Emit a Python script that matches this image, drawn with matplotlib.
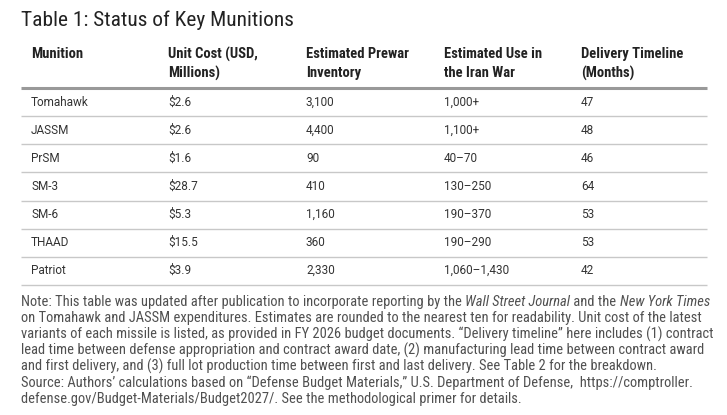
import matplotlib
matplotlib.use("Agg")
import matplotlib.pyplot as plt
from matplotlib import font_manager

title = "Table 1: Status of Key Munitions"
headers = [["Munition", ""],
           ["Unit Cost (USD,", "Millions)"],
           ["Estimated Prewar", "Inventory"],
           ["Estimated Use in", "the Iran War"],
           ["Delivery Timeline", "(Months)"]]
munitions = ["Tomahawk", "JASSM", "PrSM", "SM-3", "SM-6", "THAAD", "Patriot"]
unit_cost = ["$2.6", "$2.6", "$1.6", "$28.7", "$5.3", "$15.5", "$3.9"]
inventory = ["3,100", "4,400", "90", "410", "1,160", "360", "2,330"]
use_in_war = ["1,000+", "1,100+", "40\u201370", "130\u2013250", "190\u2013370", "190\u2013290", "1,060\u20131,430"]
delivery = ["47", "48", "46", "64", "53", "53", "42"]

note_lines = [
    [("Note: This table was updated after publication to incorporate reporting by the ", "normal"),
     ("Wall Street Journal", "italic"), (" and the ", "normal"), ("New York Times", "italic")],
    [("on Tomahawk and JASSM expenditures. Estimates are rounded to the nearest ten for readability. Unit cost of the latest", "normal")],
    [("variants of each missile is listed, as provided in FY 2026 budget documents. \u201cDelivery timeline\u201d here includes (1) contract", "normal")],
    [("lead time between defense appropriation and contract award date, (2) manufacturing lead time between contract award", "normal")],
    [("and first delivery, and (3) full lot production time between first and last delivery. See Table 2 for the breakdown.", "normal")],
]
source_lines = [
    "Source: Authors\u2019 calculations based on \u201cDefense Budget Materials,\u201d U.S. Department of Defense,  https://comptroller.",
    "defense.gov/Budget-Materials/Budget2027/. See the methodological primer for details.",
]

# pick a narrow face if one is installed
fonts = font_manager.fontManager.ttflist
names = {f.name for f in fonts}
narrow, stretch = "DejaVu Sans", "condensed"
for cand in ["Liberation Sans Narrow", "Roboto Condensed", "Open Sans Condensed", "Noto Sans Condensed"]:
    if cand in names:
        narrow, stretch = cand, "normal"
        break
body = "Roboto"

fig = plt.figure(figsize=(7.27, 4.15), dpi=100)
ax = fig.add_axes([0, 0, 1, 1])
ax.set_xlim(0, 727)
ax.set_ylim(415, 0)
ax.axis("off")
r = fig.canvas.get_renderer()


def fit(s, target, **kw):
    t = ax.text(0, 0, s, fontsize=10, **kw)
    w = t.get_window_extent(r).width
    t.remove()
    return 10 * target / w


def put(x, y, s, **kw):
    t = ax.text(x, y, s, va="center", **kw)
    bb = t.get_window_extent(r)
    return ax.transData.inverted().transform((bb.x1, bb.y0))[0]


left, right = 21, 707
col_x = [31, 168, 306, 444, 581]
dark, txt, grey = "#222222", "#333333", "#505050"

tkw = dict(family=narrow, stretch=stretch)
put(left, 20, title, fontsize=fit(title, 271, **tkw), color=dark, **tkw)

hkw = dict(family=narrow, stretch=stretch, weight="bold")
hsize = fit("Delivery Timeline", 102, **hkw)
for x, (l1, l2) in zip(col_x, headers):
    put(x, 54, l1, fontsize=hsize, color=dark, **hkw)
    put(x, 73, l2, fontsize=hsize, color=dark, **hkw)

ax.hlines(88, left, right, color="#999999", lw=2.2)
bsize = fit("Tomahawk", 58, family=body)
row_y0, row_h = 102, 28.1
columns = [munitions, unit_cost, inventory, use_in_war, delivery]
for i in range(len(munitions)):
    y = row_y0 + i * row_h
    for x, col in zip(col_x, columns):
        put(x, y, col[i], fontsize=bsize, family=body, color=txt)
    ax.hlines(y + 14.2, left, right, color="#c8c8c8", lw=1.0)

nkw = dict(family=narrow, stretch=stretch)
nsize = fit(note_lines[2][0][0], 686, **nkw)
for j, segs in enumerate(note_lines):
    x = left
    for s, style in segs:
        x = put(x, 302 + j * 16, s, fontsize=nsize, style=style, color=grey, **nkw)
for j, s in enumerate(source_lines):
    put(left, 383 + j * 16, s, fontsize=nsize, color=grey, **nkw)

fig.savefig("out.png", dpi=100)
